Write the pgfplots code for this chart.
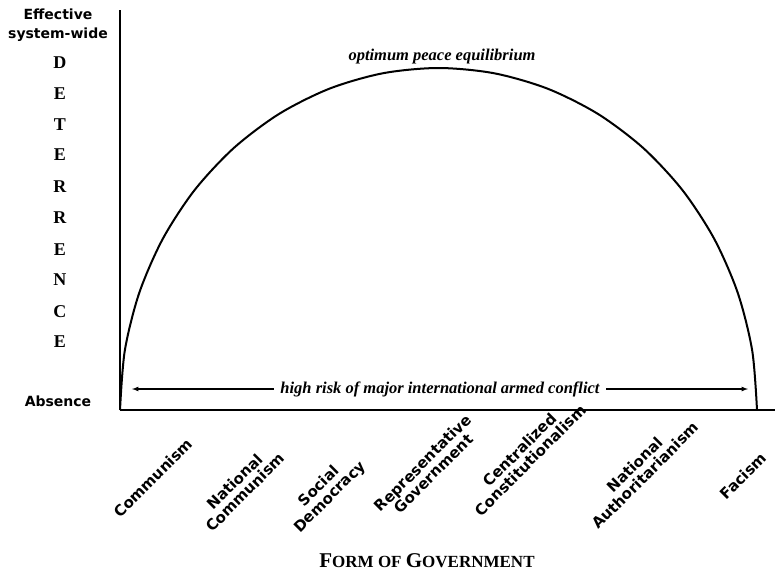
\documentclass[border=0pt]{standalone}
\usepackage{fontspec}
\setmainfont{Liberation Serif}
\newfontfamily\heavy{DejaVu Sans}
\usepackage{pgfplots}
\pgfplotsset{compat=1.18}
\begin{document}
\begin{tikzpicture}
\begin{axis}[
  x=1pt, y=1pt,
  xmin=0, xmax=655, ymin=0, ymax=400,
  axis lines=left,
  axis line style={-, line width=2.8pt, black},
  xtick=\empty, ytick=\empty,
  clip=false,
]
\addplot[smooth, line width=2pt, black] coordinates {
(0,0) (4.8,59.4) (19.2,117.0) (42.7,171.0) (74.5,219.8) (113.8,262.0) (159.25,296.2) (209.6,321.4) (263.2,336.8) (318.5,342)
(373.8,336.8) (427.4,321.4) (477.75,296.2) (523.2,262.0) (562.5,219.8) (594.3,171.0) (617.8,117.0) (632.2,59.4) (637,0)
};
% arrow
\draw[<->, >=latex, line width=1.2pt] (axis cs:12,21) -- (axis cs:628,21);
\node[fill=white, inner xsep=6pt, inner ysep=1pt, font=\fontsize{16.5}{16.5}\selectfont\bfseries\itshape] at (axis cs:320,21) {high risk of major international armed conflict};
\node[font=\fontsize{16.5}{16.5}\selectfont\bfseries\itshape] at (axis cs:322,353) {optimum peace equilibrium};
% y labels
\node[align=center, font=\fontsize{14}{19}\selectfont\heavy\bfseries] at (axis cs:-62,385) {Effective\\system-wide};
\node[font=\fontsize{14}{14}\selectfont\heavy\bfseries] at (axis cs:-62,9) {Absence};
\begin{scope}[every node/.style={font=\fontsize{18}{18}\selectfont\bfseries}]
\node at (axis cs:-60,347) {D};
\node at (axis cs:-60,316) {E};
\node at (axis cs:-60,285) {T};
\node at (axis cs:-60,255) {E};
\node at (axis cs:-60,223) {R};
\node at (axis cs:-60,192) {R};
\node at (axis cs:-60,160) {E};
\node at (axis cs:-60,130) {N};
\node at (axis cs:-60,98) {C};
\node at (axis cs:-60,68) {E};
\end{scope}
% categories
\begin{scope}[every node/.style={rotate=45, align=center, inner sep=0pt, font=\fontsize{15}{15}\selectfont\heavy\bfseries}]
\node at (axis cs:33,-68) {Communism};
\node at (axis cs:120,-77) {National\\Communism};
\node at (axis cs:205,-82) {Social\\Democracy};
\node at (axis cs:308,-58) {Representative\\Government};
\node at (axis cs:405,-45) {Centralized\\Constitutionalism};
\node at (axis cs:520,-60) {National\\Authoritarianism};
\node at (axis cs:623,-66) {Facism};
\end{scope}
\node[font=\bfseries, inner sep=1pt] at (axis cs:307,-151) {{\fontsize{21}{21}\selectfont F}{\fontsize{17}{17}\selectfont ORM OF }{\fontsize{21}{21}\selectfont G}{\fontsize{17}{17}\selectfont OVERNMENT}};
\coordinate (bl) at (axis cs:-120,-164);
\coordinate (tr) at (axis cs:655,410);
\end{axis}
\pgfresetboundingbox
\path[use as bounding box] (bl) rectangle (tr);
\end{tikzpicture}
\end{document}
